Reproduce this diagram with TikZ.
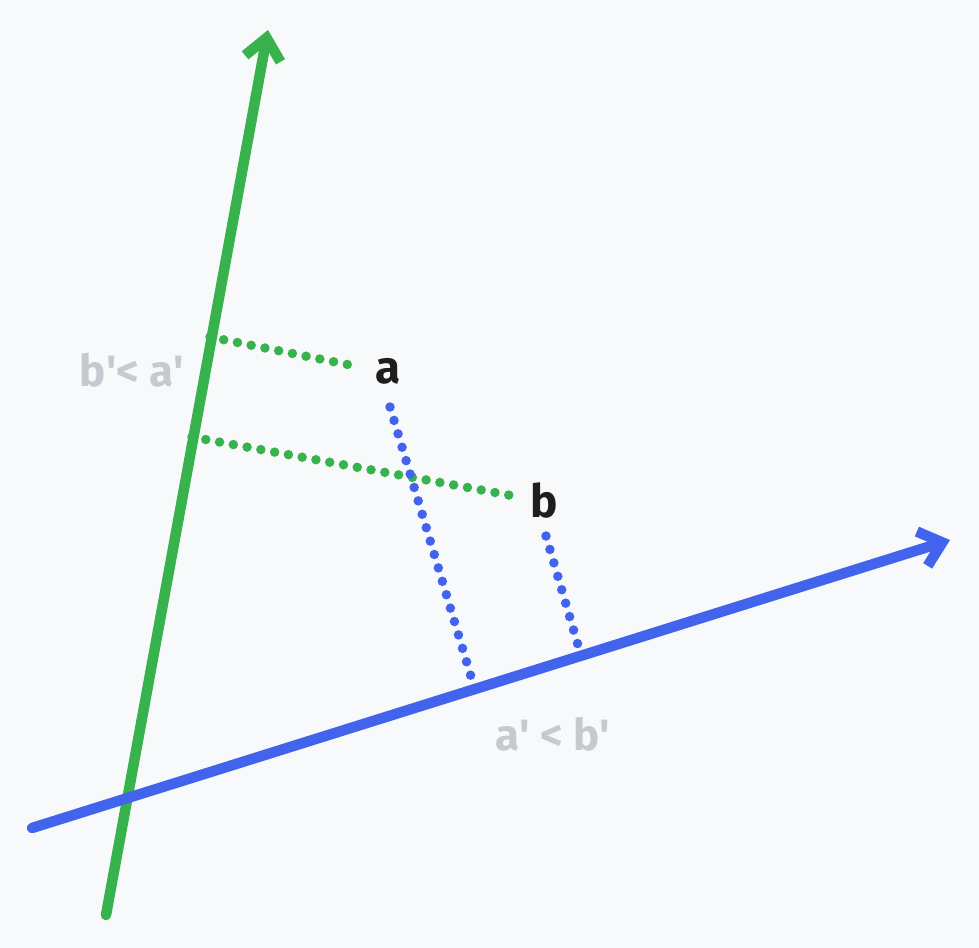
\documentclass[tikz,border=0pt]{standalone}
\usepackage{fontspec}
\setmainfont{Fira Sans}
\usepackage{tikz}
\usetikzlibrary{arrows.meta,calc,positioning}
\definecolor{ink}{HTML}{1E1E1E}
\definecolor{paper}{HTML}{F8F9FA}
\definecolor{labelgray}{HTML}{C6CAD0}
\definecolor{axisgreen}{HTML}{37B24D}
\definecolor{axisblue}{HTML}{4263EB}
\newcommand{\pr}{\textquotesingle}
\tikzset{
  axisline/.style={line width=10.5bp,line cap=round,line join=round,-{Straight Barb[length=21bp,width=36bp,line width=10.5bp]}},
  projline/.style={line width=9.5bp,line cap=round,dash pattern=on 0bp off 14bp},
  pointlabel/.style={text=ink,font=\fontsize{46}{50}\selectfont\bfseries,inner sep=0pt},
  orderlabel/.style={text=labelgray,font=\fontsize{44}{48}\selectfont\bfseries,inner sep=0pt}
}
\begin{document}
\begin{tikzpicture}[x=1bp,y=-1bp]
  \fill[paper] (0,0) rectangle (979,948);
  \useasboundingbox (0,0) rectangle (979,948);

  % the two axes
  \coordinate (g0) at (106,915);
  \coordinate (g1) at (268,30);
  \coordinate (u0) at (32,828);
  \coordinate (u1) at (950,540);
  \draw[axisline,axisgreen] (g0) -- (g1);
  \draw[axisline,axisblue] (u0) -- (u1);

  % points
  \node[pointlabel] (a) at (388,371) {a};
  \node[pointlabel] (b) at (544,500) {b};

  % projection feet
  \coordinate (ag) at (210,337);
  \coordinate (bg) at (192,437);
  \coordinate (au) at (475,690);
  \coordinate (bu) at (580,652);
  \coordinate (ae) at (360,367);
  \coordinate (be) at (514,496);
  \coordinate (as) at (390,407);
  \coordinate (bs) at (546,536);
  \draw[projline,axisgreen] (ag) -- (ae);
  \draw[projline,axisgreen] (bg) -- (be);
  \draw[projline,axisblue] (as) -- (au);
  \draw[projline,axisblue] (bs) -- (bu);

  % order labels
  \node[orderlabel] (ordg) at (132,370) {b\pr< a\pr};
  \node[orderlabel] (ordu) at (553,734) {a\pr{} < b\pr};
\end{tikzpicture}
\end{document}
